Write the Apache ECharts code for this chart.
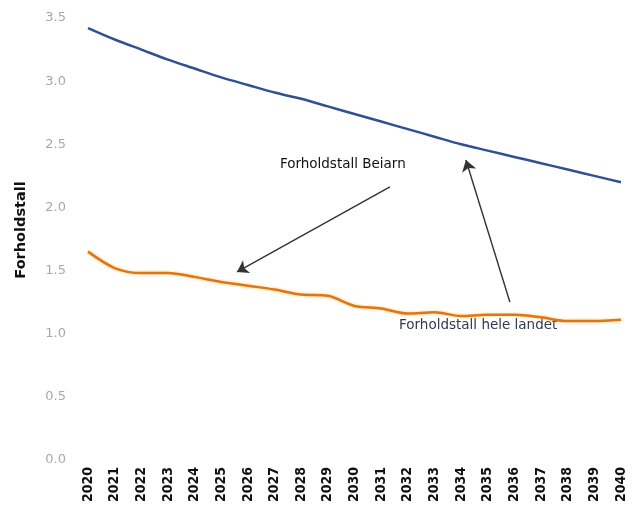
<!DOCTYPE html>
<html>
<head>
<meta charset="utf-8">
<script src="https://cdn.jsdelivr.net/npm/echarts@6/dist/echarts.min.js"></script>
<style>html,body{margin:0;padding:0;background:#fff}#c{width:642px;height:509px}</style>
</head>
<body>
<div id="c"></div>
<script>
const years = [2020,2021,2022,2023,2024,2025,2026,2027,2028,2029,2030,2031,2032,2033,2034,2035,2036,2037,2038,2039,2040];
const beiarn = [3.42,3.33,3.25,3.17,3.10,3.03,2.97,2.91,2.86,2.80,2.74,2.68,2.62,2.56,2.50,2.45,2.40,2.35,2.30,2.25,2.20];
const heleLandet = [1.65,1.52,1.48,1.48,1.45,1.41,1.38,1.35,1.31,1.30,1.22,1.20,1.16,1.17,1.14,1.15,1.15,1.13,1.10,1.10,1.11];
const yTicks = [0, 0.5, 1.0, 1.5, 2.0, 2.5, 3.0, 3.5];
const axisTitle = 'Forholdstall';
const noteLabels = ['Forholdstall Beiarn', 'Forholdstall hele landet'];
// annotation anchors in data coordinates [year, value]
const noteAnchors = [[2027.2, 2.336], [2031.67, 1.069]];
const arrowLines = [
  [[2031.33, 2.162], [2025.59, 1.489]],
  [[2035.83, 1.251], [2034.18, 2.375]]
];

const chart = echarts.init(document.getElementById('c'), null, {renderer: 'canvas'});
const pairs = (xs, ys) => xs.map((x, i) => [x, ys[i]]);

chart.setOption({
  animation: false,
  backgroundColor: '#fff',
  grid: {left: 88, right: 21, top: 18, bottom: 49, containLabel: false},
  xAxis: {
    type: 'value', min: years[0], max: years[years.length - 1], interval: 1,
    axisLine: {show: false}, axisTick: {show: false}, splitLine: {show: false},
    axisLabel: {
      rotate: 90, margin: 7, color: '#111', fontWeight: 'bold',
      fontFamily: 'DejaVu Sans Condensed', fontSize: 14,
      formatter: v => String(v)
    }
  },
  yAxis: {
    type: 'value', min: yTicks[0], max: yTicks[yTicks.length - 1], interval: 0.5,
    axisLine: {show: false}, axisTick: {show: false}, splitLine: {show: false},
    axisLabel: {
      margin: 22, fontFamily: 'DejaVu Sans', fontSize: 13,
      color: (v) => (v === 3.5 ? '#444' : '#a8a8a8'),
      formatter: v => v.toFixed(1)
    }
  },
  series: [
    {
      name: noteLabels[0], type: 'line', data: pairs(years, beiarn),
      smooth: 0.3, symbol: 'none',
      lineStyle: {color: '#2f5092', width: 2.5}
    },
    {
      name: noteLabels[1], type: 'line', data: pairs(years, heleLandet),
      smooth: 0.3, symbol: 'none',
      lineStyle: {color: '#e0741a', width: 2.5, shadowColor: 'rgba(255,190,40,0.7)', shadowBlur: 3},
      markLine: {
        silent: true, symbol: ['none', 'arrow'], symbolSize: 11,
        lineStyle: {color: '#333', width: 1.4, type: 'solid'},
        label: {show: false},
        emphasis: {disabled: true},
        data: arrowLines.map(a => [{coord: a[0]}, {coord: a[1]}])
      }
    }
  ]
});

const p1 = chart.convertToPixel({gridIndex: 0}, noteAnchors[0]);
const p2 = chart.convertToPixel({gridIndex: 0}, noteAnchors[1]);
chart.setOption({
  graphic: [
    {type: 'text', rotation: Math.PI / 2, x: 21, y: 230,
     style: {text: axisTitle, fill: '#111', font: 'bold 14.5px "DejaVu Sans"', align: 'center', verticalAlign: 'middle'}},
    {type: 'text', x: p1[0], y: p1[1],
     style: {text: noteLabels[0], fill: '#111', font: '13.5px "DejaVu Sans"', align: 'left', verticalAlign: 'middle'}},
    {type: 'text', x: p2[0], y: p2[1],
     style: {text: noteLabels[1], fill: '#2e3a52', font: '13.5px "DejaVu Sans"', align: 'left', verticalAlign: 'middle'}}
  ]
});
</script>
</body>
</html>
